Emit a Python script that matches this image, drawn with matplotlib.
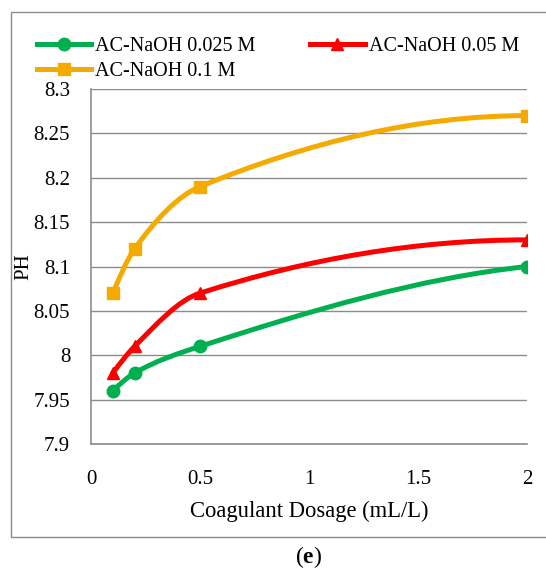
import numpy as np
import matplotlib.pyplot as plt
from matplotlib.path import Path
from matplotlib.patches import PathPatch, Rectangle
from matplotlib.lines import Line2D
from matplotlib.ticker import FuncFormatter

dosage = [0.1, 0.2, 0.5, 2]
ph_0025 = [7.96, 7.98, 8.01, 8.10]
ph_005 = [7.98, 8.01, 8.07, 8.13]
ph_01 = [8.07, 8.12, 8.19, 8.27]
labels = ['AC-NaOH 0.025 M', 'AC-NaOH 0.05 M', 'AC-NaOH 0.1 M']
colors = ['#00B050', '#FF0000', '#F5AA00']
markers = ['o', '^', 's']

plt.rcParams['font.family'] = ['Liberation Serif', 'DejaVu Serif']
plt.rcParams['mathtext.fontset'] = 'custom'
plt.rcParams['mathtext.rm'] = 'Liberation Serif'
plt.rcParams['mathtext.bf'] = 'Liberation Serif:bold'


def pchip_slopes(x, y):
    x = np.asarray(x, float)
    y = np.asarray(y, float)
    h = np.diff(x)
    d = np.diff(y) / h
    m = np.zeros_like(y)
    for k in range(1, len(x) - 1):
        if d[k - 1] * d[k] > 0:
            w1 = 2 * h[k] + h[k - 1]
            w2 = h[k] + 2 * h[k - 1]
            m[k] = (w1 + w2) / (w1 / d[k - 1] + w2 / d[k])

    def end(h0, h1, d0, d1):
        s = ((2 * h0 + h1) * d0 - h0 * d1) / (h0 + h1)
        if np.sign(s) != np.sign(d0):
            return 0.0
        if np.sign(d0) != np.sign(d1) and abs(s) > 3 * abs(d0):
            return 3 * d0
        return s

    m[0] = end(h[0], h[1], d[0], d[1])
    m[-1] = end(h[-1], h[-2], d[-1], d[-2])
    return m


def smooth_path(xs, ys):
    # smoothed line as cubic bezier segments through the points
    m = pchip_slopes(xs, ys)
    verts = [(xs[0], ys[0])]
    codes = [Path.MOVETO]
    for i in range(len(xs) - 1):
        h = xs[i + 1] - xs[i]
        verts += [(xs[i] + h / 3, ys[i] + m[i] * h / 3),
                  (xs[i + 1] - h / 3, ys[i + 1] - m[i + 1] * h / 3),
                  (xs[i + 1], ys[i + 1])]
        codes += [Path.CURVE4] * 3
    return Path(verts, codes)


fig = plt.figure(figsize=(5.46, 5.72), dpi=100)
fig.patches.append(Rectangle((11 / 546, 1 - 537 / 572), 0.99, 525 / 572,
                             transform=fig.transFigure, fill=False,
                             edgecolor='#8c8c8c', linewidth=1))
ax = fig.add_axes([91 / 546, 1 - 444 / 572, 436 / 546, 355 / 572])
ax.set_xlim(0, 2)
ax.set_ylim(7.9, 8.3)

for ys, c, m, lab in zip([ph_0025, ph_005, ph_01], colors, markers, labels):
    ax.add_patch(PathPatch(smooth_path(dosage, ys), facecolor='none',
                           edgecolor=c, linewidth=3.6, capstyle='round', zorder=3))
    ax.plot(dosage, ys, linestyle='none', marker=m, color=c, markersize=9, zorder=4)

ax.set_xticks([0, 0.5, 1, 1.5, 2])
ax.set_yticks([7.9, 7.95, 8, 8.05, 8.1, 8.15, 8.2, 8.25, 8.3])
fmt = FuncFormatter(lambda v, p: '%g' % round(v, 2))
ax.xaxis.set_major_formatter(fmt)
ax.yaxis.set_major_formatter(fmt)
ax.tick_params(length=0, labelsize=15, colors='black')
ax.tick_params(axis='x', pad=19)
ax.tick_params(axis='y', pad=15)
ax.grid(axis='y', color='#8c8c8c', linewidth=1)
ax.set_axisbelow(True)
for s in ['top', 'right']:
    ax.spines[s].set_visible(False)
for s in ['left', 'bottom']:
    ax.spines[s].set_color('#8c8c8c')
    ax.spines[s].set_linewidth(1.2)

ax.set_xlabel('Coagulant Dosage (mL/L)', fontsize=16.3, va='center')
ax.xaxis.set_label_coords(0.5, -(511 - 444) / 355)
ax.set_ylabel('PH', fontsize=15, va='center')
ax.yaxis.set_label_coords(-(91 - 24) / 436, 0.5)

handles = [Line2D([], [], color=c, marker=m, linewidth=3.6, markersize=9)
           for c, m in zip(colors, markers)]
order = [0, 2, 1]
fig.legend([handles[i] for i in order], [labels[i] for i in order],
           loc='upper left', bbox_to_anchor=(27 / 546, 1 - 27 / 572),
           ncol=2, frameon=False, fontsize=14.5, handlelength=2.7,
           handletextpad=0.2, columnspacing=2.7, labelspacing=0.3, borderpad=0)

fig.text(309 / 546, 1 - 557 / 572, r'($\mathbf{e}$)', ha='center', va='center', fontsize=17)

plt.savefig('out.png', dpi=100)
